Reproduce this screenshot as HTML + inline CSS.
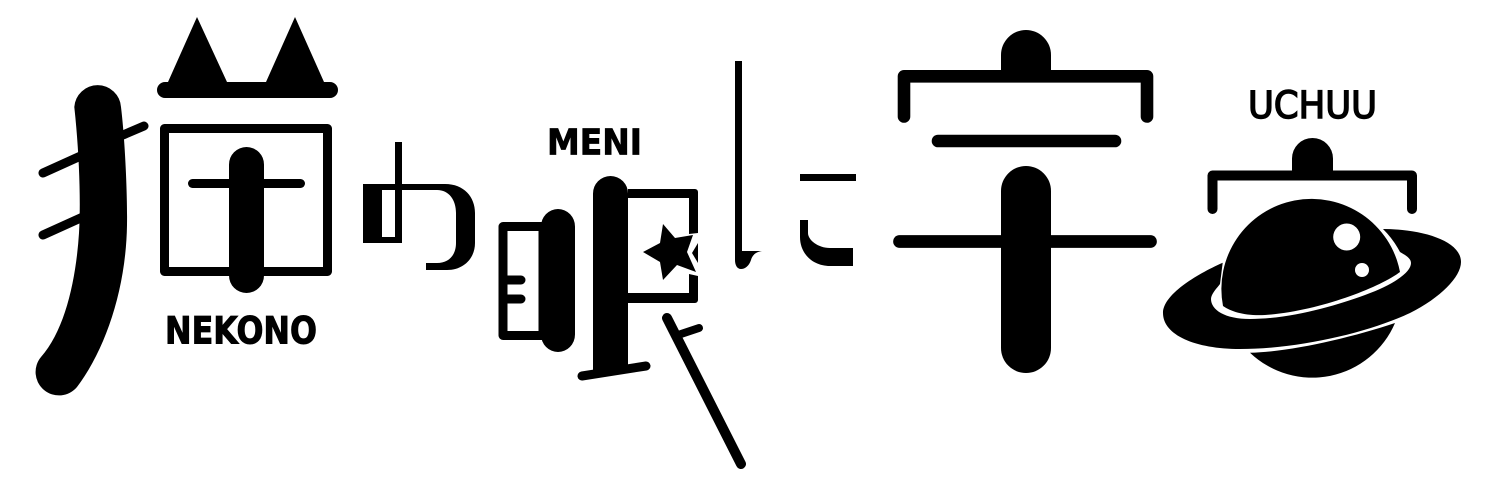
<!DOCTYPE html>
<html><head><meta charset="utf-8"><title>猫の眼に宇宙</title>
<style>html,body{margin:0;padding:0;background:#fff}svg{display:block}</style></head>
<body>
<svg width="1502" height="488" viewBox="0 0 1502 488" xmlns="http://www.w3.org/2000/svg">
<rect width="1502" height="488" fill="#fff"/>
<g fill="#000" stroke="none">
<!-- neko left -->
<path d="M74.3 107A23.4 23.4 0 0 1 121 107C125 140 127.5 195 127 225C126 290 105 350 77 387A22 22 0 0 1 41 357C65 330 76 280 79 233C81 200 79 150 74.3 107Z"/>
<!-- ears -->
<path d="M197 17L227 82H266L295 17L324 82H330A8 8 0 0 1 330 98H165A8 8 0 0 1 165 82H168Z"/>
<path d="M229 164.500a17.500 17.500 0 0 1 35 0V275.500a17.500 17.500 0 0 1 -35 0Z"/>
</g>
<g fill="none" stroke="#000" stroke-linecap="round" stroke-linejoin="round">
<path d="M43 173L85 154M43 235L85 216M123 135L144 126" stroke-width="9"/>
<rect x="164.500" y="128.500" width="163" height="143" stroke-width="9"/>
<path d="M192.500 183.500H300.500" stroke-width="9"/>
<rect x="503" y="226.500" width="40" height="109" stroke-width="9"/>
<path d="M507 280H521M507 299H521" stroke-width="9"/>
<path d="M582 376L646 366" stroke-width="9"/>
<path d="M667 318L741 464" stroke-width="10"/>
<path d="M678 335L699 328" stroke-width="8"/>
<path d="M904 116.500V76.300H1147V116.500" stroke-width="12.600"/>
<path d="M938 141H1115" stroke-width="12.600"/>
<path d="M899.500 241.500H1150.500" stroke-width="12.700"/>
<path d="M1212.500 209V175.500H1412V209" stroke-width="10"/>
</g>
<g fill="#000">
<!-- no -->
<path fill-rule="evenodd" d="M363 184H395V142H402V184H445C464 184 475 197 475 213V243C475 258 464 270 447 270H426V263H437C449 263 456 255 456 243V213C456 200 449 190 437 190H402V243H363ZM382 190V237H395V190Z"/>
<!-- me -->
<path d="M541 226.500a17 17.500 0 0 1 34 0V334.500a17 17.500 0 0 1 -34 0Z"/>
<path d="M593 193.500a17.500 17.500 0 0 1 35 0V370H593Z"/>
<path d="M628 189H695A3 3 0 0 1 698 192V233L689 234V198H628Z"/>
<path d="M689 274L698 276V300A3 3 0 0 1 695 303H628V293H689Z"/>
<path d="M663 224L675 238L693 235L687 252L696 272L677 265L663 280L660 262L643 252L660 243Z"/>
<path d="M698 243L692 253L698 263Z"/>
<!-- ni -->
<path d="M735 61H742V251H762C755 252 752 256 751 260C749 266 745 269 741 269C737 269 735 265 735 260Z"/>
<rect x="800" y="174" width="56" height="7"/>
<path d="M800 220H808V233C808 240 818 248 830 248H853V266H830C813 266 800 254 800 237Z"/>
<!-- u -->
<path d="M1001 72V55A25 25 0 0 1 1051 55V72Z"/>
<path d="M1001 191A25 25 0 0 1 1051 191V348A25 25 0 0 1 1001 348Z"/>
<!-- chuu top -->
<path d="M1292 172V158.500A20.500 20.500 0 0 1 1333 158.500V172Z"/>
<!-- planet -->
<path d="M1223 306A90 90 0 1 1 1400 272C1380 287 1320 311 1265 315C1245 316 1232 312 1223 306Z"/>
<path d="M1250 352.700C1290 352 1350 338 1395 323A90 90 0 0 1 1250 352.700Z"/>
<path d="M1222.700 262.700C1195 275 1163 295 1163 313C1163 335 1195 349 1240 349C1300 349 1370 332 1410 313C1440 298 1461 277 1461 262C1461 240 1420 229 1383 229A93 93 0 0 1 1400 252C1405 255 1411 258 1411 263C1411 272 1395 284 1365 295C1335 306 1290 319 1250 319C1225 319 1211 310 1211 299C1211 294 1217 288 1220 284Z"/>
<circle cx="1346.700" cy="237" r="13.500" fill="#fff"/>
<circle cx="1362" cy="270" r="7" fill="#fff"/>
</g>
<g fill="#000">
<text x="165" y="343.500" font-family="'DejaVu Sans',sans-serif" font-weight="700" font-size="37" textLength="152" lengthAdjust="spacingAndGlyphs" stroke="#000" stroke-width="1">NEKONO</text>
<text x="547" y="154.500" font-family="'DejaVu Sans',sans-serif" font-weight="700" font-size="36" textLength="95" lengthAdjust="spacingAndGlyphs" stroke="#000" stroke-width="0.800">MENI</text>
<text x="1248" y="118" font-family="'DejaVu Sans',sans-serif" font-size="37" textLength="129" lengthAdjust="spacingAndGlyphs" stroke="#000" stroke-width="1.500">UCHUU</text>
</g>
</svg>
</body></html>
